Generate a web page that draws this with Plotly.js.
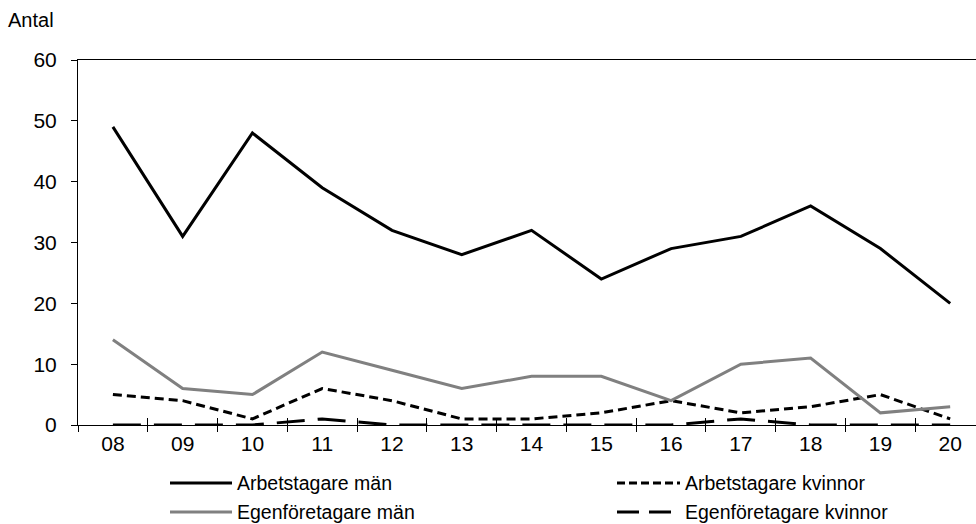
<!DOCTYPE html>
<html>
<head>
<meta charset="utf-8">
<script src="https://cdn.plot.ly/plotly-3.0.1.min.js"></script>
<style>html,body{margin:0;padding:0;background:#fff;}#chart{width:976px;height:524px;}</style>
</head>
<body>
<div id="chart"></div>
<script>
const years = ['08','09','10','11','12','13','14','15','16','17','18','19','20'];
const arbetstagareMan = [49,31,48,39,32,28,32,24,29,31,36,29,20];
const arbetstagareKvinnor = [5,4,1,6,4,1,1,2,4,2,3,5,1];
const egenforetagareMan = [14,6,5,12,9,6,8,8,4,10,11,2,3];
const egenforetagareKvinnor = [0,0,0,1,0,0,0,0,0,1,0,0,0];
const seriesNames = ['Arbetstagare män','Arbetstagare kvinnor','Egenföretagare män','Egenföretagare kvinnor'];
const yTicks = [0,10,20,30,40,50,60];

const FONT = 'Arial, "Liberation Sans", sans-serif';
const styles = [
  {color:'#000000', width:3, dash:'solid'},
  {color:'#000000', width:3, dash:'9px,5px'},
  {color:'#808080', width:3, dash:'solid'},
  {color:'#000000', width:3, dash:'28px,13px'}
];
const values = [arbetstagareMan, arbetstagareKvinnor, egenforetagareMan, egenforetagareKvinnor];

const traces = values.map((v,i)=>({
  type:'scatter', mode:'lines', x:years, y:v, name:seriesNames[i],
  line:styles[i], showlegend:false, cliponaxis:false, hoverinfo:'x+y+name'
}));
// invisible helper trace for the crossing tick marks axis
traces.push({type:'scatter', mode:'lines', x:years, y:egenforetagareKvinnor, xaxis:'x2', yaxis:'y',
  line:{color:'rgba(0,0,0,0)', width:0}, showlegend:false, hoverinfo:'skip'});

// plot area in pixels
const L = 78, T = 60, W = 898, H = 365;
const px2x = p => (p - L) / W;
const py2y = p => (T + H - p) / H;

// manual legend (long line samples, as in the reference)
const legendPos = [
  {x0:170, x1:232, ty:483},
  {x0:617, x1:680, ty:483},
  {x0:170, x1:232, ty:512},
  {x0:617, x1:680, ty:512}
];
const shapes = [];
const annotations = [];
legendPos.forEach((p,i)=>{
  shapes.push({type:'line', xref:'paper', yref:'paper', x0:px2x(p.x0), x1:px2x(p.x1), y0:py2y(p.ty), y1:py2y(p.ty),
    line:{color:styles[i].color, width:3, dash: i===1 ? '8px,4px' : (i===3 ? '22px,10px' : 'solid')}});
  annotations.push({xref:'paper', yref:'paper', x:px2x(p.x1+4), y:py2y(p.ty), xanchor:'left', yanchor:'middle',
    text:seriesNames[i], showarrow:false, borderpad:0, font:{family:FONT, size:19.5, color:'#000'}});
});
annotations.push({xref:'paper', yref:'paper', x:px2x(6), y:py2y(20), xanchor:'left', yanchor:'middle',
  text:'Antal', showarrow:false, font:{family:FONT, size:20, color:'#000'}});

const layout = {
  width:976, height:524,
  margin:{l:L, r:0, t:T, b:524-T-H, pad:0},
  paper_bgcolor:'#fff', plot_bgcolor:'#fff',
  font:{family:FONT, size:21, color:'#000'},
  showlegend:false,
  xaxis:{type:'category', categoryorder:'array', categoryarray:years, range:[-0.5, 12.37],
    tickson:'boundaries', ticks:'outside', ticklen:6, tickcolor:'#000', tickwidth:1,
    showline:true, linecolor:'#000', linewidth:1, mirror:true, showgrid:false, zeroline:false,
    tickfont:{family:FONT, size:21, color:'#000'}},
  xaxis2:{type:'category', categoryorder:'array', categoryarray:years, range:[-0.5, 12.37], overlaying:'x', anchor:'y',
    tickson:'boundaries', ticks:'inside', ticklen:7, tickcolor:'#000', tickwidth:1,
    showticklabels:false, showline:false, showgrid:false, zeroline:false},
  yaxis:{range:[0,60], tickvals:yTicks, ticktext:yTicks.map(String), ticks:'outside', ticklen:6, tickcolor:'#000',
    showline:true, linecolor:'#000', linewidth:1, showgrid:false, zeroline:false, ticklabelstandoff:10,
    tickfont:{family:FONT, size:21, color:'#000'}},
  shapes:shapes,
  annotations:annotations
};

Plotly.newPlot('chart', traces, layout, {displayModeBar:false, staticPlot:true});
</script>
</body>
</html>
